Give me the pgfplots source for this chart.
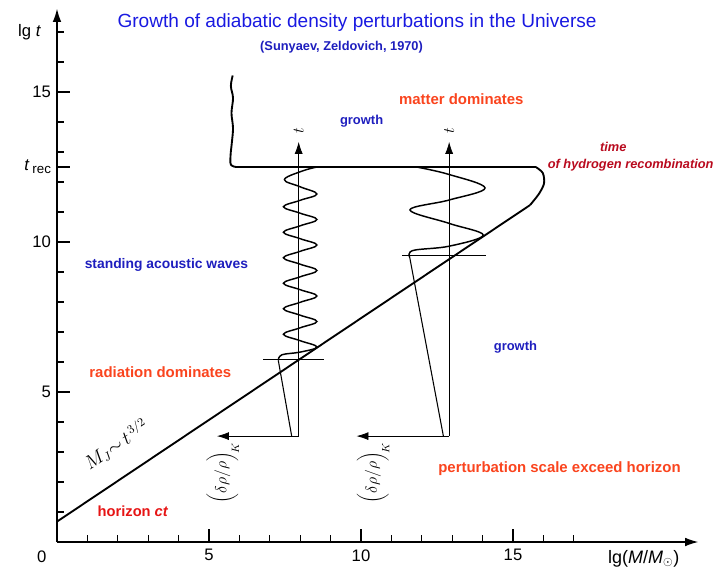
\documentclass[border=0pt]{standalone}
\usepackage{fontspec}
\setmainfont{Liberation Sans}
\usepackage{pgfplots}
\pgfplotsset{compat=1.18}
\usetikzlibrary{arrows.meta}

\definecolor{titleblue}{RGB}{25,25,225}
\definecolor{noteblue}{RGB}{30,30,190}
\definecolor{eraorange}{RGB}{250,68,30}
\definecolor{horizonred}{RGB}{230,20,20}
\definecolor{recred}{RGB}{185,10,30}

\newcommand{\fs}[1]{\fontsize{#1}{#1}\selectfont}

\begin{document}
\begin{tikzpicture}
\begin{axis}[
  x=22.8pt, y=22.5pt,
  xmin=0, xmax=21.1, ymin=0, ymax=17.78,
  axis lines=left,
  axis line style={line width=1.1pt, -{Latex[length=10pt,width=6.5pt]}},
  xtick={5,10,15}, xticklabels={5,10,15},
  minor xtick={1,...,17},
  ytick={5,10,12.5,15},
  yticklabels={5,10,{\textit{t}\,\raisebox{-0.35ex}{\fs{10}rec}},15},
  minor ytick={1,...,17},
  tick align=inside,
  major tick length=10pt, minor tick length=5.5pt,
  every tick/.style={line width=0.8pt, black},
  /pgf/number format/assume math mode=true,
  ticklabel style={font=\fs{12.5}},
  xticklabel style={yshift=-2pt},
  yticklabel style={xshift=-1pt},
  clip=false,
  no markers,
]
% horizon line M_J ~ t^{3/2}
\addplot[black, line width=1.4pt] coordinates {(0,0.68) (15.56,11.23)};
% recombination line with its rounded right end
\addplot[black, line width=1.4pt, smooth, tension=0.5] coordinates {
  (15.56,11.23) (15.85,11.6) (16.02,11.95) (15.98,12.3) (15.75,12.5)};
\addplot[black, line width=1.4pt] coordinates {(5.9,12.5) (15.75,12.5)};
% wavy boundary above the recombination line
\addplot[black, line width=1.4pt, smooth, tension=0.6] coordinates {
  (5.9,12.5) (5.72,12.58) (5.71,12.9) (5.75,13.3) (5.79,13.8) (5.74,14.3)
  (5.79,14.8) (5.72,15.2) (5.78,15.55)};

% first scale: oscillation axis and arrows
\addplot[black, line width=0.6pt, -{Latex[length=9pt,width=6pt]}] coordinates {(7.95,3.53) (7.95,13.34)};
\addplot[black, line width=0.6pt, -{Latex[length=9pt,width=6pt]}] coordinates {(7.95,3.53) (5.26,3.53)};
\addplot[black, line width=0.6pt] coordinates {(6.78,6.1) (8.78,6.1)};
\addplot[black, line width=1.1pt, smooth, tension=0.65] coordinates {
  (8.55,12.50) (8.05,12.36) (7.48,12.08) (8.00,11.84)
  (8.55,11.60) (8.00,11.39) (7.45,11.175) (8.00,10.96)
  (8.55,10.75) (8.00,10.54) (7.45,10.325) (8.00,10.11)
  (8.55,9.90) (8.00,9.69) (7.45,9.475) (8.00,9.26)
  (8.55,9.05) (8.00,8.84) (7.45,8.625) (8.00,8.41)
  (8.55,8.20) (8.00,7.99) (7.45,7.775) (8.00,7.56)
  (8.55,7.35) (8.00,7.14) (7.45,6.925) (8.00,6.71)
  (8.55,6.50) (8.00,6.33) (7.40,6.24) (7.28,6.05)};
\addplot[black, line width=0.8pt] coordinates {(7.28,6.05) (7.72,3.53)};

% second scale: oscillation axis and arrows
\addplot[black, line width=0.6pt, -{Latex[length=9pt,width=6pt]}] coordinates {(12.9,3.53) (12.9,13.34)};
\addplot[black, line width=0.6pt, -{Latex[length=9pt,width=6pt]}] coordinates {(12.9,3.53) (9.85,3.53)};
\addplot[black, line width=0.6pt] coordinates {(11.35,9.57) (14.1,9.57)};
\addplot[black, line width=1.1pt, smooth, tension=0.6] coordinates {
  (11.83,12.5) (12.9,12.25) (14.08,11.8) (12.9,11.4) (11.61,11.07)
  (12.9,10.62) (14.02,10.23) (12.9,9.86) (11.72,9.72) (11.6,9.5)};
\addplot[black, line width=0.8pt] coordinates {(11.6,9.5) (12.71,3.53)};

% axis annotations
\node[rotate=90, font=\fs{12}] at (axis cs:7.95,13.72) {$t$};
\node[rotate=90, font=\fs{12}] at (axis cs:12.9,13.72) {$t$};
\node[font=\fs{12.5}] at (axis cs:-0.9,17.0) {lg \textit{t}};
\node[font=\fs{12.5}] at (axis cs:-0.5,-0.5) {0};
\node[font=\fs{13.5}] at (axis cs:19.3,-0.55) {lg(\textit{M}/\textit{M}$_{\odot}$)};
\node[rotate=33.8, font=\fs{13.5}] at (axis cs:1.95,3.25) {$M_J{\sim}\,t^{\,3/2}$};
\node[rotate=90, font=\fs{12}] at (axis cs:5.45,2.3) {$\bigg(\delta\rho/\rho\bigg)_{\!K}$};
\node[rotate=90, font=\fs{12}] at (axis cs:10.4,2.3) {$\bigg(\delta\rho/\rho\bigg)_{\!K}$};

% titles and region labels
\node[text=titleblue, font=\fs{14.3}] at (axis cs:9.87,17.33) {Growth of adiabatic density perturbations in the Universe};
\node[text=noteblue, font=\bfseries\fs{9.6}] at (axis cs:9.36,16.5) {(Sunyaev, Zeldovich, 1970)};
\node[text=eraorange, font=\bfseries\fs{11.2}] at (axis cs:13.3,14.77) {matter dominates};
\node[text=noteblue, font=\bfseries\fs{9.7}] at (axis cs:10.02,14.03) {growth};
\node[text=recred, font=\bfseries\itshape\fs{9.6}] at (axis cs:18.3,13.17) {time};
\node[text=recred, font=\bfseries\itshape\fs{9.6}] at (axis cs:18.87,12.57) {of hydrogen recombination};
\node[text=noteblue, font=\bfseries\fs{10.4}] at (axis cs:3.6,9.23) {standing acoustic waves};
\node[text=noteblue, font=\bfseries\fs{9.7}] at (axis cs:15.08,6.5) {growth};
\node[text=eraorange, font=\bfseries\fs{11.2}] at (axis cs:3.4,5.67) {radiation dominates};
\node[text=eraorange, font=\bfseries\fs{11.2}] at (axis cs:16.53,2.43) {perturbation scale exceed horizon};
\node[text=horizonred, font=\bfseries\fs{11}] at (axis cs:2.5,1.03) {horizon \textit{ct}};
\end{axis}
\pgfresetboundingbox
\useasboundingbox (-42.75pt,-22.5pt) rectangle (495pt,406.5pt);
\end{tikzpicture}
\end{document}
